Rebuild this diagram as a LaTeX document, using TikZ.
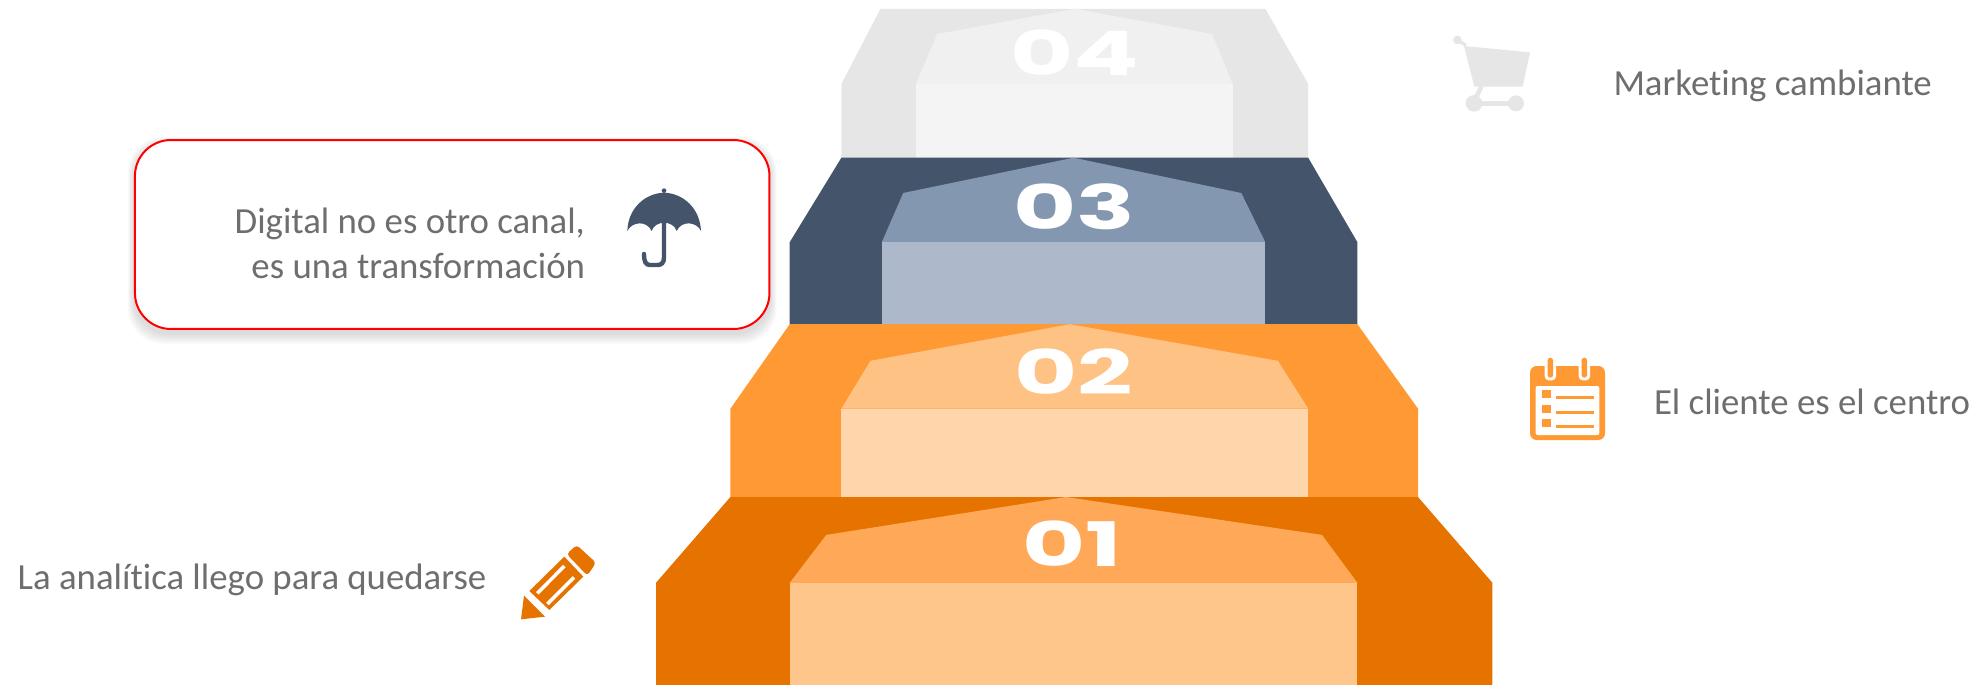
\documentclass[tikz,border=0pt]{standalone}
\usepackage{fontspec}
\setmainfont{Carlito}[Ligatures=CommonOff]
\newfontfamily\numfont{Poppins}[Scale=1]
\usetikzlibrary{calc}
\definecolor{gA}{HTML}{E6E6E6}\definecolor{gB}{HTML}{F0F0F0}\definecolor{gC}{HTML}{F4F4F4}
\definecolor{nA}{HTML}{44546A}\definecolor{nB}{HTML}{8497B0}\definecolor{nC}{HTML}{ADB9CA}
\definecolor{oA}{HTML}{FF9933}\definecolor{oB}{HTML}{FFC285}\definecolor{oC}{HTML}{FFD5AB}
\definecolor{dA}{HTML}{E67300}\definecolor{dB}{HTML}{FFA857}\definecolor{dC}{HTML}{FFC68C}
\definecolor{txt}{HTML}{6E6E6E}
\tikzset{
  label text/.style={font=\fontsize{27.6pt}{33pt}\selectfont,text=txt,inner sep=0pt,outer sep=0pt},
  num text/.style={font=\numfont\bfseries\fontsize{46pt}{46pt}\selectfont,text=white,inner sep=0pt,outer sep=0pt},
  zoomed/.style={x=0.25pt,y=-0.25pt},
}
\begin{document}
\begin{tikzpicture}[x=0.75pt,y=-0.75pt]
\useasboundingbox (0,0) rectangle (1978,685);
% tier 4
\fill[gA] (880.5,8.8)--(1265.3,8.8)--(1308.2,84)--(1308.2,158)--(841.4,158)--(841.4,84)--cycle;
\fill[gB] (1074.8,8.8)--(1212.3,34)--(1232.5,84)--(915.9,84)--(937.3,34)--cycle;
\fill[gC] (915.9,84) rectangle (1232.5,158);
% tier 3
\fill[nA] (841.4,157.7)--(1308.2,157.7)--(1357.4,242.2)--(1357.4,324.5)--(789.7,324.5)--(789.7,242.2)--cycle;
\fill[nB] (1073.5,157.7)--(1241.3,193)--(1265.3,242.2)--(881.8,242.2)--(903.2,193)--cycle;
\fill[nC] (881.8,242.2) rectangle (1265.3,324.5);
% tier 2
\fill[oA] (789.7,324.2)--(1357.4,324.2)--(1418,408.7)--(1418,497.2)--(730.4,497.2)--(730.4,408.7)--cycle;
\fill[oB] (1069.8,324.2)--(1277.9,360.8)--(1308.2,408.7)--(841.4,408.7)--(870.4,360.8)--cycle;
\fill[oC] (841.4,408.7) rectangle (1308.2,497.2);
% tier 1
\fill[dA] (730.4,497)--(1418,497)--(1492.4,582.8)--(1492.4,685)--(656,685)--(656,582.8)--cycle;
\fill[dB] (1066,497)--(1322,534.9)--(1357.4,582.8)--(789.7,582.8)--(826.3,534.9)--cycle;
\fill[dC] (789.7,582.8) rectangle (1357.4,685);
% numbers
\node[num text] (n4) at (1075,53) {\scalebox{1.58}[1]{04}};
\node[num text] (n3) at (1074,207) {\scalebox{1.58}[1]{03}};
\node[num text] (n2) at (1074,372) {\scalebox{1.58}[1]{02}};
\node[num text] (n1) at (1072,544) {\scalebox{1.58}[1]{01}};
% callout shadow
\foreach \g in {12,10,8,6,4,2}{
  \fill[black,opacity=0.022,rounded corners=27pt]
    ($(135,140)+(-\g*0.6,4-\g*0.6)$) rectangle ($(769.5,329)+(\g*0.6,4+\g*0.9)$);
}
\node[draw=red,line width=1.5pt,fill=white,rounded corners=27pt,minimum width=475.9pt,minimum height=141.7pt,inner sep=0pt] (box) at (452.2,234.5) {};
% texts
\node[label text,anchor=base east] (t3a) at (585,233.5) {Digital no es otro canal,};
\node[label text,anchor=base east] (t3b) at (585,278.5) {es una transformación};
\node[label text,anchor=base west] (t4) at (1613.5,96) {Marketing cambiante};
\node[label text,anchor=base west] (t2) at (1654,414) {El cliente es el centro};
\node[label text,anchor=base west] (t1) at (17.7,589.5) {La analítica llego para quedarse};
% umbrella
\begin{scope}[shift={(600,170)},zoomed]
\fill[nA] (82,183) .. controls (84,115) and (135,70) .. (192,68) .. controls (250,70) and (300,115) .. (303,183)
  .. controls (290,155) and (245,150) .. (230,183) .. controls (220,150) and (165,150) .. (155,183)
  .. controls (140,150) and (95,155) .. (82,183) -- cycle;
\fill[nA] (192,62) circle (7);
\draw[nA,line width=3.3pt,line cap=round] (192,160) -- (192,262) .. controls (192,278) and (185,285) .. (172,285) -- (150,285) .. controls (137,285) and (132,275) .. (132,252);
\end{scope}
% pencil
\begin{scope}[shift={(510,530)},zoomed]
\fill[dA] (33,268)--(42,197)--(105,260)--cycle;
\fill[dA] (58,183)--(163,80)--(220,140)--(118,240)--cycle;
\draw[white,line width=2.6pt] (82,190)--(163,108);
\draw[white,line width=2.6pt] (112,222)--(192,142);
\fill[dA,rounded corners=2.5pt] (170,72)--(200,45)--(258,98)--(232,137)--cycle;
\end{scope}
% calendar
\begin{scope}[shift={(1510,345)},zoomed]
\fill[oA,rounded corners=5pt] (60,63) rectangle (285,285);
\fill[white,rounded corners=1.5pt] (77,123) rectangle (268,270);
\foreach \cx in {121,223}{
  \fill[white,rounded corners=3pt] (\cx-17,30) rectangle (\cx+17,106);
  \fill[oA,rounded corners=2pt] (\cx-8,38) rectangle (\cx+8,98);
}
\foreach \ya/\yb in {135/153,180/198,222/240}{
  \fill[oA] (97,\ya) rectangle (123,\ya+25);
  \fill[oA] (138,\yb) rectangle (252,\yb+8);
}
\end{scope}
% cart
\begin{scope}[shift={(1440,20)},zoomed]
\fill[gA] (72,78)--(270,97)--(248,200)--(103,200)--cycle;
\fill[gA] (52,60) circle (13);
\draw[gA,line width=2.5pt] (55,62)--(78,76);
\draw[gA,line width=3.5pt] (125,198)--(107,235);
\fill[gA] (102,250) circle (25);
\fill[gA] (228,250) circle (24);
\fill[gA] (115,243) rectangle (215,258);
\end{scope}
\end{tikzpicture}
\end{document}
